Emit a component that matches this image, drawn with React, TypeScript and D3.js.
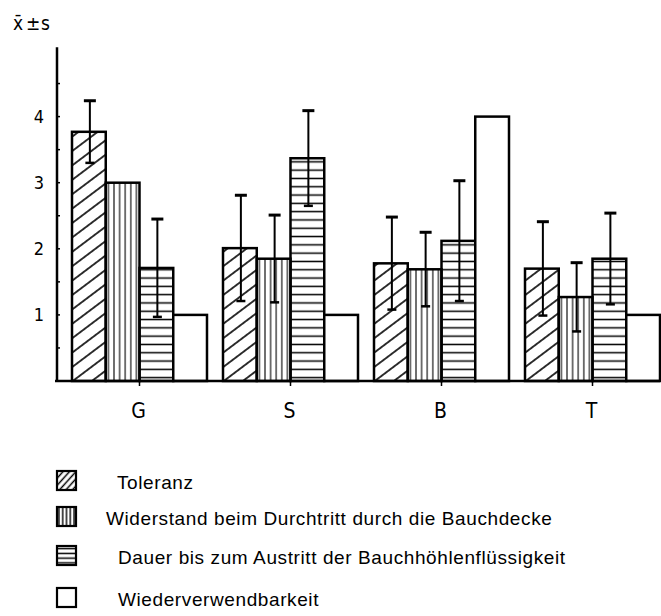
import React from "react";
import * as d3 from "d3";

const categories = ["G", "S", "B", "T"];
const seriesNames = [
  "Toleranz",
  "Widerstand beim Durchtritt durch die Bauchdecke",
  "Dauer bis zum Austritt der Bauchhöhlenflüssigkeit",
  "Wiederverwendbarkeit",
];
const toleranz = [3.77, 2.01, 1.78, 1.7];
const toleranzSd = [0.47, 0.8, 0.7, 0.71];
const widerstand = [3.0, 1.85, 1.69, 1.27];
const widerstandSd = [0, 0.66, 0.56, 0.52];
const dauer = [1.71, 3.37, 2.12, 1.85];
const dauerSd = [0.74, 0.72, 0.91, 0.69];
const wiederverwendbarkeit = [1.0, 1.0, 4.0, 1.0];
const wiederverwendbarkeitSd = [0, 0, 0, 0];
const yTickLabels = [1, 2, 3, 4];
const yMinorTicks = [0.5, 1, 1.5, 2, 2.5, 3, 3.5, 4, 4.5];

const seriesValues = [toleranz, widerstand, dauer, wiederverwendbarkeit];
const seriesSd = [toleranzSd, widerstandSd, dauerSd, wiederverwendbarkeitSd];
const fills = ["url(#diag)", "url(#vert)", "url(#horiz)", "white"];
const legendFills = ["url(#diagS)", "url(#vertS)", "url(#horizS)", "white"];

const narrow = '"Liberation Sans Narrow", "DejaVu Sans Condensed", "Arial Narrow", sans-serif';
const sans = '"Liberation Sans", Arial, Helvetica, sans-serif';

export default function App() {
  const W = 661;
  const H = 616;
  const y = d3.scaleLinear().domain([0, 5]).range([381, 50.5]);
  const x0 = d3.scaleBand<string>().domain(categories).range([72, 660]).paddingInner(0.106).paddingOuter(0);
  const x1 = d3
    .scaleBand<number>()
    .domain(d3.range(seriesNames.length))
    .range([0, x0.bandwidth()])
    .padding(0);

  const legendBase = [489, 525, 564, 606];
  const legendTextX = [117, 106, 118, 118];
  const iconSize = 19;

  return (
    <svg
      width={W}
      height={H}
      style={{ position: "absolute", left: 0, top: 0, background: "white" }}
    >
      <defs>
        <pattern id="diag" patternUnits="userSpaceOnUse" width="14" height="11.5" patternTransform="rotate(-37)">
          <line x1="0" y1="5.75" x2="14" y2="5.75" stroke="#000" strokeWidth="1.6" />
        </pattern>
        <pattern id="vert" patternUnits="userSpaceOnUse" width="5.6" height="10">
          <line x1="2.8" y1="0" x2="2.8" y2="10" stroke="#000" strokeWidth="1.1" />
        </pattern>
        <pattern id="horiz" patternUnits="userSpaceOnUse" width="10" height="8.3">
          <line x1="0" y1="4.15" x2="10" y2="4.15" stroke="#000" strokeWidth="1.5" />
        </pattern>
        <pattern id="diagS" patternUnits="userSpaceOnUse" width="6" height="4.8" patternTransform="rotate(-48)">
          <line x1="0" y1="2.4" x2="6" y2="2.4" stroke="#000" strokeWidth="1.5" />
        </pattern>
        <pattern id="vertS" patternUnits="userSpaceOnUse" width="3.8" height="6">
          <line x1="1.9" y1="0" x2="1.9" y2="6" stroke="#000" strokeWidth="1.4" />
        </pattern>
        <pattern id="horizS" patternUnits="userSpaceOnUse" width="6" height="4.75">
          <line x1="0" y1="2.4" x2="6" y2="2.4" stroke="#000" strokeWidth="1.5" />
        </pattern>
      </defs>

      {/* y label */}
      <text x={13} y={30} fontFamily={narrow} fontSize={19} fill="#000">
        <tspan x={13}>x̄</tspan>
        <tspan x={26}>±</tspan>
        <tspan x={41}>s</tspan>
      </text>

      {/* bars */}
      {categories.map((c, ci) => (
        <g key={c} transform={`translate(${x0(c)},0)`}>
          {seriesValues.map((vals, si) => {
            const v = vals[ci];
            const bx = x1(si)!;
            const bw = x1.bandwidth();
            return (
              <rect
                key={si}
                x={bx}
                y={y(v)}
                width={bw}
                height={y(0) - y(v)}
                fill={fills[si]}
                stroke="#000"
                strokeWidth={2.5}
              />
            );
          })}
          {seriesValues.map((vals, si) => {
            const v = vals[ci];
            const sd = seriesSd[si][ci];
            if (!sd) return null;
            const cx = x1(si)! + x1.bandwidth() / 2 + 1;
            return (
              <g key={"e" + si} stroke="#000">
                <line x1={cx} x2={cx} y1={y(v + sd)} y2={y(v - sd)} strokeWidth={2} />
                <line x1={cx - 6} x2={cx + 6} y1={y(v + sd)} y2={y(v + sd)} strokeWidth={3} />
                <line x1={cx - 4.5} x2={cx + 4.5} y1={y(v - sd)} y2={y(v - sd)} strokeWidth={2.5} />
              </g>
            );
          })}
        </g>
      ))}

      {/* axes */}
      <line x1={57} x2={57} y1={y(5.05)} y2={y(0) + 1} stroke="#000" strokeWidth={2.5} />
      <line x1={55} x2={660} y1={y(0)} y2={y(0)} stroke="#000" strokeWidth={2.5} />
      {yMinorTicks.map((t) => (
        <line key={t} x1={57} x2={60} y1={y(t)} y2={y(t)} stroke="#000" strokeWidth={1.5} />
      ))}
      {yTickLabels.map((t) => (
        <text
          key={t}
          x={39}
          y={y(t) + 6.5}
          textAnchor="middle"
          fontFamily={narrow}
          fontSize={18}
          fill="#000"
        >
          {t}
        </text>
      ))}
      {categories.map((c) => {
        const cx = x0(c)! + x0.bandwidth() / 2;
        return (
          <g key={"t" + c}>
            <line x1={cx} x2={cx} y1={y(0)} y2={y(0) + 5} stroke="#000" strokeWidth={1.5} />
            <text x={cx - 1} y={418} textAnchor="middle" fontFamily={narrow} fontSize={21} fill="#000">
              {c}
            </text>
          </g>
        );
      })}

      {/* legend */}
      {seriesNames.map((name, i) => (
        <g key={"l" + i}>
          <rect
            x={57}
            y={legendBase[i] - iconSize + 1}
            width={iconSize}
            height={iconSize}
            fill={legendFills[i]}
            stroke="#000"
            strokeWidth={2.2}
          />
          <text
            x={legendTextX[i]}
            y={legendBase[i]}
            fontFamily={sans}
            fontSize={19}
            letterSpacing={0.6}
            fill="#000"
          >
            {name}
          </text>
        </g>
      ))}
    </svg>
  );
}
